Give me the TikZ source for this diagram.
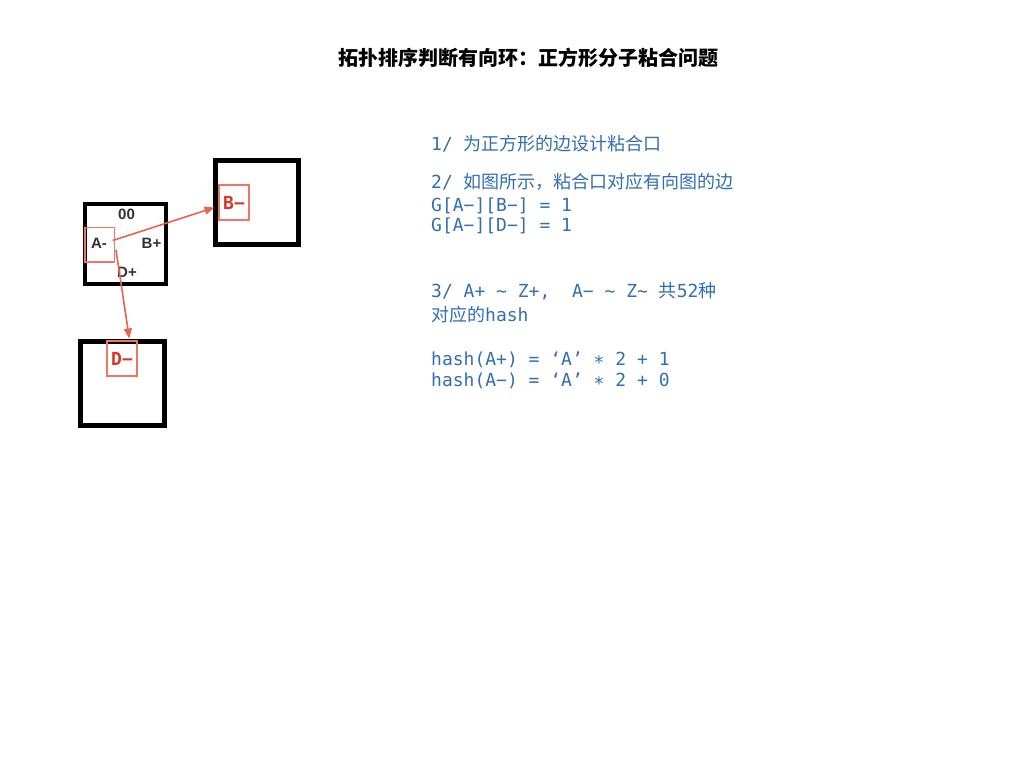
\documentclass[tikz,border=0pt]{standalone}
\usepackage{fontspec}
\setmainfont{Liberation Sans}
\newfontfamily\cjk{Noto Sans CJK SC}
\newfontfamily\mono{DejaVu Sans Mono}
\usetikzlibrary{arrows.meta}
\definecolor{txtblue}{RGB}{50,110,178}
\definecolor{boxred}{RGB}{236,120,100}
\definecolor{lblred}{RGB}{214,56,40}
\definecolor{arrred}{RGB}{232,100,78}
\definecolor{sqtxt}{RGB}{50,50,50}
\begin{document}
\begin{tikzpicture}[x=1pt,y=-1pt,
  sqbox/.style={draw=black,fill=none,inner sep=0pt,outer sep=0pt},
  portbox/.style={draw=boxred,line width=1.5pt,inner sep=0pt,outer sep=0pt},
  sqlabel/.style={text=sqtxt,font=\bfseries\fontsize{15}{15}\selectfont,inner sep=0pt},
  portlabel/.style={text=lblred,font=\mono\bfseries\fontsize{18}{18}\selectfont,inner sep=0pt},
  link/.style={draw=arrred,line width=1.6pt,-{Triangle[length=10pt,width=8pt]}},
  line/.style={anchor=base west,text=txtblue,inner sep=0pt,font=\mono\fontsize{18}{21}\selectfont}
]
\useasboundingbox (0,0) rectangle (1024,768);

% title
\node[font=\cjk\bfseries\fontsize{20}{20}\selectfont,inner sep=0pt] (title) at (528.5,58) {拓扑排序判断有向环：正方形分子粘合问题};

% squares
\node[sqbox,line width=4pt,minimum width=81pt,minimum height=80.3pt] (sq1) at (125.5,243.9) {};
\node[sqbox,line width=5pt,minimum width=83pt,minimum height=83.5pt] (sq2) at (257,202.3) {};
\node[sqbox,line width=5pt,minimum width=84pt,minimum height=84pt] (sq3) at (122.2,383.4) {};

% labels in square 1
\node[sqlabel] (l00) at (126.5,214) {00};
\node[sqlabel] (lA) at (99,243.5) {A-};
\node[sqlabel] (lB) at (151.5,243.5) {B+};
\node[sqlabel] (lD) at (127,272.5) {D+};

% port boxes
\node[portbox,minimum width=29.3pt,minimum height=34.7pt] (pA) at (99.7,244.7) {};
\node[portbox,minimum width=30pt,minimum height=35pt] (pB) at (234,202.4) {};
\node[portbox,minimum width=30pt,minimum height=35pt] (pD) at (122,358.3) {};
\node[portlabel] (tB) at (234,203) {B−};
\node[portlabel] (tD) at (122,359) {D−};

% arrows
\coordinate (s1) at (112.7,240.5);
\coordinate (e1) at (214.5,207.5);
\coordinate (s2) at (116,250);
\coordinate (e2) at (129.3,338.5);
\draw[link] (s1) -- (e1);
\draw[link] (s2) -- (e2);

% right text
\node[line] (t1) at (431,150) {1/ {\cjk 为正方形的边设计粘合口}};
\node[line] (t2) at (431,188.3) {2/ {\cjk 如图所示，粘合口对应有向图的边}};
\node[line] (t3) at (431,211) {G[A−][B−]\ =\ 1};
\node[line] (t4) at (431,231.7) {G[A−][D−]\ =\ 1};
\node[line] (t5) at (431,297.3) {3/\ A+\ {\char"7E}\ Z+,\ \ A−\ {\char"7E}\ Z{\char"7E}\ {\cjk 共}52{\cjk 种}};
\node[line] (t6) at (431,321.7) {{\cjk 对应的}hash};
\node[line] (t7) at (431,365.7) {hash(A+)\ =\ ‘A’\ ∗\ 2\ +\ 1};
\node[line] (t8) at (431,386) {hash(A−)\ =\ ‘A’\ ∗\ 2\ +\ 0};
\end{tikzpicture}
\end{document}
